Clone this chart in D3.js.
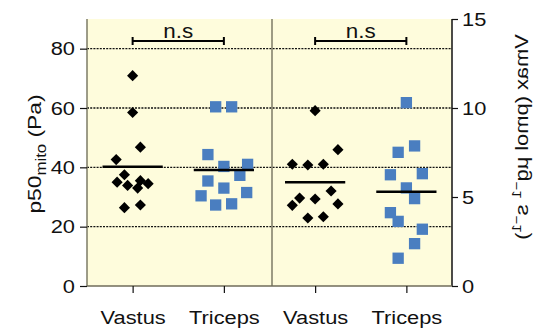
<!DOCTYPE html>
<html>
<head>
<meta charset="utf-8">
<script src="https://cdn.jsdelivr.net/npm/d3@7"></script>
<style>
  body { margin: 0; background: #fff; }
  text { font-family: "Liberation Sans", Arial, Helvetica, sans-serif; fill: #111; }
</style>
</head>
<body>
<svg id="chart" width="534" height="329"></svg>
<script>
// Muscle groups along the x axis (left panel: p50mito, right panel: Vmax)
const categories = ["Vastus", "Triceps", "Vastus", "Triceps"];

// p50mito (Pa) per subject, left panel
const p50Vastus  = [70.9, 58.5, 46.8, 42.6, 37.5, 35.0, 33.9, 35.5, 33.0, 34.5, 26.4, 27.3];
const p50Triceps = [60.4, 60.4, 44.3, 40.3, 41.0, 37.3, 35.4, 33.0, 31.5, 30.4, 27.3, 27.7];

// Vmax (pmol µg-1 s-1) per subject, right panel
const vmaxVastus  = [9.85, 7.66, 6.84, 6.80, 6.84, 5.34, 4.94, 4.89, 4.53, 4.61, 3.82, 3.89];
const vmaxTriceps = [10.3, 7.87, 7.51, 6.25, 6.31, 5.51, 4.91, 4.12, 3.63, 3.19, 2.38, 1.56];

// horizontal scatter of each point, as a fraction of the category step
const p50VastusJitter   = [0, 0, 0.085, -0.18, -0.09, -0.17, -0.055, 0.085, 0.055, 0.17, -0.09, 0.085];
const p50TricepsJitter  = [-0.09, 0.085, -0.175, 0, 0.26, 0.175, -0.175, 0, 0.25, -0.25, -0.09, 0.085];
const vmaxVastusJitter  = [0, 0.25, -0.25, -0.08, 0.09, 0.175, -0.17, 0, -0.25, 0.25, -0.08, 0.09];
const vmaxTricepsJitter = [0, 0.09, -0.09, -0.175, 0.175, 0, 0.09, -0.175, -0.09, 0.175, 0.09, -0.09];

const p50Ticks  = [0, 20, 40, 60, 80];
const vmaxTicks = [0, 5, 10, 15];
const sigLabels = ["n.s", "n.s"];

// ---------------------------------------------------------------------------
const plot = { left: 87, right: 452, top: 19, bottom: 286 };
const panelSplit = 272;
const STRETCH = 1.15;           // wide Helvetica-style lettering
const svg = d3.select("#chart");

const x = d3.scalePoint().domain(d3.range(categories.length))
  .range([plot.left, plot.right]).padding(0.5);
const yL = d3.scaleLinear().domain([0, 90]).range([plot.bottom, plot.top]);
const yR = d3.scaleLinear().domain([0, 15]).range([plot.bottom, plot.top]);

const groups = [
  { idx: 0, values: p50Vastus,   jitter: p50VastusJitter,   y: yL, shape: "diamond" },
  { idx: 1, values: p50Triceps,  jitter: p50TricepsJitter,  y: yL, shape: "square" },
  { idx: 2, values: vmaxVastus,  jitter: vmaxVastusJitter,  y: yR, shape: "diamond" },
  { idx: 3, values: vmaxTriceps, jitter: vmaxTricepsJitter, y: yR, shape: "square" }
];

function stretch(sel) {
  sel.attr("transform", function () {
    const tx = +(this.getAttribute("x") || 0);
    return `translate(${tx},0) scale(${STRETCH},1) translate(${-tx},0)`;
  });
}

// plot background
svg.append("rect")
  .attr("x", plot.left).attr("y", plot.top)
  .attr("width", plot.right - plot.left).attr("height", plot.bottom - plot.top)
  .attr("fill", "#fefcdc");

// dotted gridlines
svg.append("g").selectAll("line")
  .data(p50Ticks.filter(d => d > 0))
  .join("line")
  .attr("x1", plot.left).attr("x2", plot.right)
  .attr("y1", d => yL(d)).attr("y2", d => yL(d))
  .attr("stroke", "#111").attr("stroke-width", 1.3)
  .attr("stroke-dasharray", "2,1.2");

// panel divider
svg.append("line")
  .attr("x1", panelSplit).attr("x2", panelSplit)
  .attr("y1", plot.top).attr("y2", plot.bottom)
  .attr("stroke", "#7d7b66").attr("stroke-width", 1.5);

// left axis
const gL = svg.append("g").attr("transform", `translate(${plot.left},0)`)
  .call(d3.axisLeft(yL).tickValues(p50Ticks).tickSize(7).tickPadding(5));
gL.select(".domain").attr("stroke", "#7d7b66").attr("stroke-width", 1.5)
  .attr("d", `M0,${plot.top}V${plot.bottom}`);
gL.selectAll(".tick line").attr("stroke", "#111").attr("stroke-width", 1.2);
gL.selectAll(".tick text").attr("font-size", 19).attr("fill", "#111").call(stretch);

// right axis
const gR = svg.append("g").attr("transform", `translate(${plot.right},0)`)
  .call(d3.axisRight(yR).tickValues(vmaxTicks).tickSize(6).tickPadding(4));
gR.select(".domain").attr("stroke", "#111").attr("stroke-width", 1.5)
  .attr("d", `M0,${plot.top}V${plot.bottom}`);
gR.selectAll(".tick line").attr("stroke", "#111").attr("stroke-width", 1.2);
gR.selectAll(".tick text").attr("font-size", 19).attr("fill", "#111").call(stretch);

// bottom axis
const gB = svg.append("g").attr("transform", `translate(0,${plot.bottom})`)
  .call(d3.axisBottom(x).tickSize(7).tickPadding(18).tickFormat(i => categories[i]));
gB.select(".domain").attr("stroke", "#6f6d5a").attr("stroke-width", 1.5)
  .attr("d", `M${plot.left},0H${plot.right}`);
gB.selectAll(".tick line").attr("stroke", "#111").attr("stroke-width", 1.2);
gB.selectAll(".tick text").attr("font-size", 19).attr("fill", "#111").call(stretch);

// data points
const diamond = d3.symbol(d3.symbolSquare, 62)();
const square = d3.symbol(d3.symbolSquare, 128)();
groups.forEach(g => {
  svg.append("g").selectAll("path")
    .data(g.values.map((v, i) => ({ v, j: g.jitter[i] })))
    .join("path")
    .attr("d", g.shape === "diamond" ? diamond : square)
    .attr("transform", d => {
      const px = x(g.idx) + d.j * x.step(), py = g.y(d.v);
      return g.shape === "diamond"
        ? `translate(${px},${py}) rotate(45)`
        : `translate(${px},${py})`;
    })
    .attr("fill", g.shape === "diamond" ? "#000" : "#4a7ec0");

  // group mean
  const m = d3.mean(g.values);
  svg.append("line")
    .attr("x1", x(g.idx) - 0.33 * x.step()).attr("x2", x(g.idx) + 0.33 * x.step())
    .attr("y1", g.y(m)).attr("y2", g.y(m))
    .attr("stroke", "#000").attr("stroke-width", 2.5);
});

// significance brackets
[[0, 1], [2, 3]].forEach((pair, k) => {
  const x1 = x(pair[0]), x2 = x(pair[1]), by = 41;
  const b = svg.append("g").attr("stroke", "#000").attr("stroke-width", 2);
  b.append("line").attr("x1", x1).attr("x2", x2).attr("y1", by).attr("y2", by);
  b.append("line").attr("x1", x1).attr("x2", x1).attr("y1", by - 4).attr("y2", by + 4);
  b.append("line").attr("x1", x2).attr("x2", x2).attr("y1", by - 4).attr("y2", by + 4);
  svg.append("text")
    .attr("x", (x1 + x2) / 2).attr("y", 38)
    .attr("text-anchor", "middle").attr("font-size", 19.5)
    .text(sigLabels[k]).call(stretch);
});

// left axis title: p50mito (Pa)
const tL = svg.append("text")
  .attr("transform", `translate(41,154) rotate(-90) scale(1.2,1)`)
  .attr("text-anchor", "middle").attr("font-size", 19);
tL.append("tspan").text("p50");
tL.append("tspan").attr("font-size", 14).attr("dy", 5).text("mito");
tL.append("tspan").attr("dy", -5).text(" (Pa)");

// right axis title: Vmax (pmol µg-1 s-1), set top-to-bottom with the glyphs facing inward
const tR = svg.append("text")
  .attr("transform", `translate(528,137) rotate(90) scale(${STRETCH},-1)`)
  .attr("text-anchor", "middle").attr("font-size", 19);
tR.append("tspan").text("Vmax (pmol µg");
tR.append("tspan").attr("font-size", 13).attr("dy", -7).text("−1");
tR.append("tspan").attr("dy", 7).text(" s");
tR.append("tspan").attr("font-size", 13).attr("dy", -7).text("−1");
tR.append("tspan").attr("dy", 7).text(")");
</script>
</body>
</html>
